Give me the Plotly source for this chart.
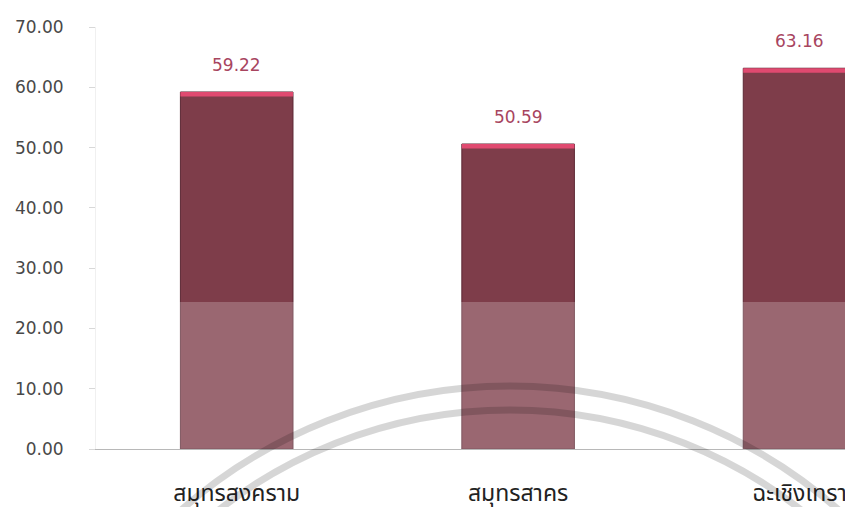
import plotly.graph_objects as go

categories = ["สมุทรสงคราม", "สมุทรสาคร", "ฉะเชิงเทรา"]
values = [59.22, 50.59, 63.16]
y_ticks = [0, 10, 20, 30, 40, 50, 60, 70]
y_tick_labels = [f"{v:.2f}" for v in y_ticks]

# the page body adds an 8px offset; lay out in window pixels and compensate
OFF = 8
W, H = 853, 507
ML, MR, MT, MB = 96 - OFF, OFF, 27 - OFF, 507 - (449 - OFF)
PW, PH = W - ML - MR, H - MT - MB

cap = 0.75
bar_w = 0.40

fig = go.Figure()
fig.add_trace(go.Bar(
    x=categories, y=values, width=bar_w,
    marker=dict(color="#7e3d4a", line=dict(color="#5c2834", width=1)),
    hoverinfo="skip", showlegend=False,
))
fig.add_trace(go.Bar(
    x=categories, y=[cap] * len(values), base=[v - cap for v in values],
    width=bar_w,
    marker=dict(color="#e04a70", line=dict(width=0)),
    hoverinfo="skip", showlegend=False,
))

for c, v in zip(categories, values):
    fig.add_annotation(
        x=c, y=v, text=f"{v:.2f}", showarrow=False, yshift=27,
        font=dict(family="DejaVu Sans", size=17, color="#a8455f"),
    )

def px_to_paper(px, py):
    fx, fy = px - OFF, py - OFF
    return (fx - ML) / PW, (H - MB - fy) / PH

shapes = []
# light overlay on lower part (scan artefact)
shapes.append(dict(type="rect", xref="paper", yref="y", x0=0, x1=1, y0=0, y1=24.4,
                   fillcolor="rgba(255,255,255,0.22)", line=dict(width=0), layer="above"))
# watermark arcs
for r in (498, 474):
    cx, cy = 510, 884
    x0, y0 = px_to_paper(cx - r, cy + r)
    x1, y1 = px_to_paper(cx + r, cy - r)
    shapes.append(dict(type="circle", xref="paper", yref="paper",
                       x0=x0, x1=x1, y0=y0, y1=y1,
                       line=dict(color="rgba(0,0,0,0.16)", width=7),
                       fillcolor="rgba(0,0,0,0)", layer="above"))

fig.update_layout(
    width=W, height=H,
    margin=dict(l=ML, r=MR, t=MT, b=MB, autoexpand=False),
    paper_bgcolor="white", plot_bgcolor="white",
    barmode="overlay",
    shapes=shapes,
    xaxis=dict(
        type="category", range=[-0.5, 2.19], automargin=False,
        showgrid=False, showline=True, linecolor="#b8b8b8", linewidth=1,
        ticks="", ticklabelstandoff=23,
        tickfont=dict(family="Noto Sans Thai, Loma, Garuda, Tahoma, sans-serif", size=23, color="#222222"),
        fixedrange=True,
    ),
    yaxis=dict(
        range=[0, 70], tickvals=y_ticks, ticktext=y_tick_labels, automargin=False,
        showgrid=False, zeroline=False,
        showline=True, linecolor="#f0f0f0", linewidth=1,
        ticks="outside", ticklen=6, tickcolor="#d8d8d8",
        ticklabelstandoff=22,
        tickfont=dict(family="DejaVu Sans", size=17, color="#484848"),
        fixedrange=True,
    ),
)

fig.write_html("out.html")
